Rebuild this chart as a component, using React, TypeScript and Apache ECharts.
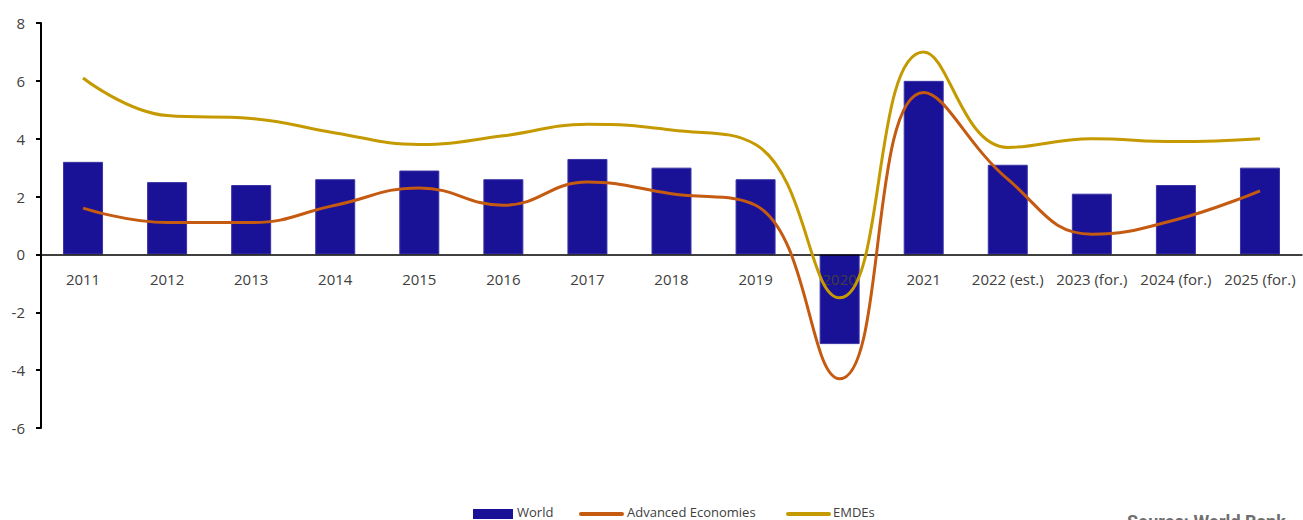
import React, { useEffect, useRef } from "react";
import * as echarts from "echarts";

const categories = [
  "2011", "2012", "2013", "2014", "2015", "2016", "2017", "2018", "2019", "2020",
  "2021", "2022 (est.)", "2023 (for.)", "2024 (for.)", "2025 (for.)",
];
const worldValues = [3.2, 2.5, 2.4, 2.6, 2.9, 2.6, 3.3, 3.0, 2.6, -3.1, 6.0, 3.1, 2.1, 2.4, 3.0];
const advancedValues = [1.6, 1.1, 1.1, 1.7, 2.3, 1.7, 2.5, 2.1, 1.7, -4.3, 5.6, 2.6, 0.7, 1.2, 2.2];
const emdeValues = [6.1, 4.8, 4.7, 4.2, 3.8, 4.1, 4.5, 4.3, 3.8, -1.5, 7.0, 3.7, 4.0, 3.9, 4.0];
const seriesNames = ["World", "Advanced Economies", "EMDEs"];
const seriesColors = ["#1a1296", "#c55a11", "#c49a00"];
const yMin = -6;
const yMax = 8;
const sourceText = "Source: World Bank";

const FONT = "'Open Sans', 'Liberation Sans', sans-serif";

const GRID_TOP = 23;
const GRID_BOTTOM = 92;
const HEIGHT = 520;

export default function App() {
  const ref = useRef<HTMLDivElement>(null);
  useEffect(() => {
    if (!ref.current) return;
    const chart = echarts.init(ref.current, null, { renderer: "svg" });
    const gridH = HEIGHT - GRID_TOP - GRID_BOTTOM;
    const zeroOffset = -((0 - yMin) / (yMax - yMin)) * gridH;
    const legendY = 512;
    const legendTextStyle = { fill: "#404040", fontSize: 13, fontFamily: FONT, verticalAlign: "middle" };
    chart.setOption({
      animation: false,
      backgroundColor: "#ffffff",
      grid: { left: 41, right: 1, top: GRID_TOP, bottom: GRID_BOTTOM, containLabel: false },
      xAxis: {
        type: "category",
        data: categories,
        position: "bottom",
        offset: zeroOffset,
        z: 3,
        axisLine: { onZero: false, lineStyle: { color: "#000000", width: 1.5 } },
        axisTick: { show: false },
        axisLabel: {
          color: "#404040",
          fontSize: 15,
          fontFamily: FONT,
          margin: 17,
          interval: 0,
        },
        splitLine: { show: false },
      },
      yAxis: {
        type: "value",
        min: yMin,
        max: yMax,
        interval: 2,
        axisLine: { show: true, lineStyle: { color: "#000000", width: 2 } },
        axisTick: { show: true, length: 5, lineStyle: { color: "#000000", width: 2 } },
        axisLabel: { color: "#404040", fontSize: 15, fontFamily: FONT, margin: 16 },
        splitLine: { show: false },
      },
      series: [
        {
          name: seriesNames[0],
          type: "bar",
          data: worldValues,
          barWidth: 40,
          itemStyle: { color: seriesColors[0], borderColor: "#3a34a6", borderWidth: 1 },
          z: 2,
        },
        {
          name: seriesNames[1],
          type: "line",
          data: advancedValues,
          smooth: 0.45,
          symbol: "none",
          lineStyle: { color: seriesColors[1], width: 3 },
          itemStyle: { color: seriesColors[1] },
          z: 5,
        },
        {
          name: seriesNames[2],
          type: "line",
          data: emdeValues,
          smooth: 0.45,
          symbol: "none",
          lineStyle: { color: seriesColors[2], width: 3 },
          itemStyle: { color: seriesColors[2] },
          z: 6,
        },
      ],
      graphic: [
        {
          type: "rect",
          shape: { x: 473, y: 509, width: 40, height: 10 },
          style: { fill: seriesColors[0] },
        },
        {
          type: "text",
          x: 517,
          y: legendY,
          style: { text: seriesNames[0], ...legendTextStyle },
        },
        {
          type: "line",
          shape: { x1: 581, y1: 514, x2: 622, y2: 514 },
          style: { stroke: seriesColors[1], lineWidth: 4, lineCap: "round" },
        },
        {
          type: "text",
          x: 627,
          y: legendY,
          style: { text: seriesNames[1], ...legendTextStyle },
        },
        {
          type: "line",
          shape: { x1: 788, y1: 514, x2: 829, y2: 514 },
          style: { stroke: seriesColors[2], lineWidth: 4, lineCap: "round" },
        },
        {
          type: "text",
          x: 833,
          y: legendY,
          style: { text: seriesNames[2], ...legendTextStyle },
        },
        {
          type: "text",
          left: 1127,
          top: 512,
          style: {
            text: sourceText,
            fill: "#6f6f6f",
            font: "bold 18px Roboto, 'Liberation Sans', sans-serif",
          },
        },
      ],
    });
    return () => chart.dispose();
  }, []);
  return (
    <div
      ref={ref}
      style={{ position: "fixed", left: 0, top: 0, width: 1303, height: 520, background: "#fff" }}
    />
  );
}
